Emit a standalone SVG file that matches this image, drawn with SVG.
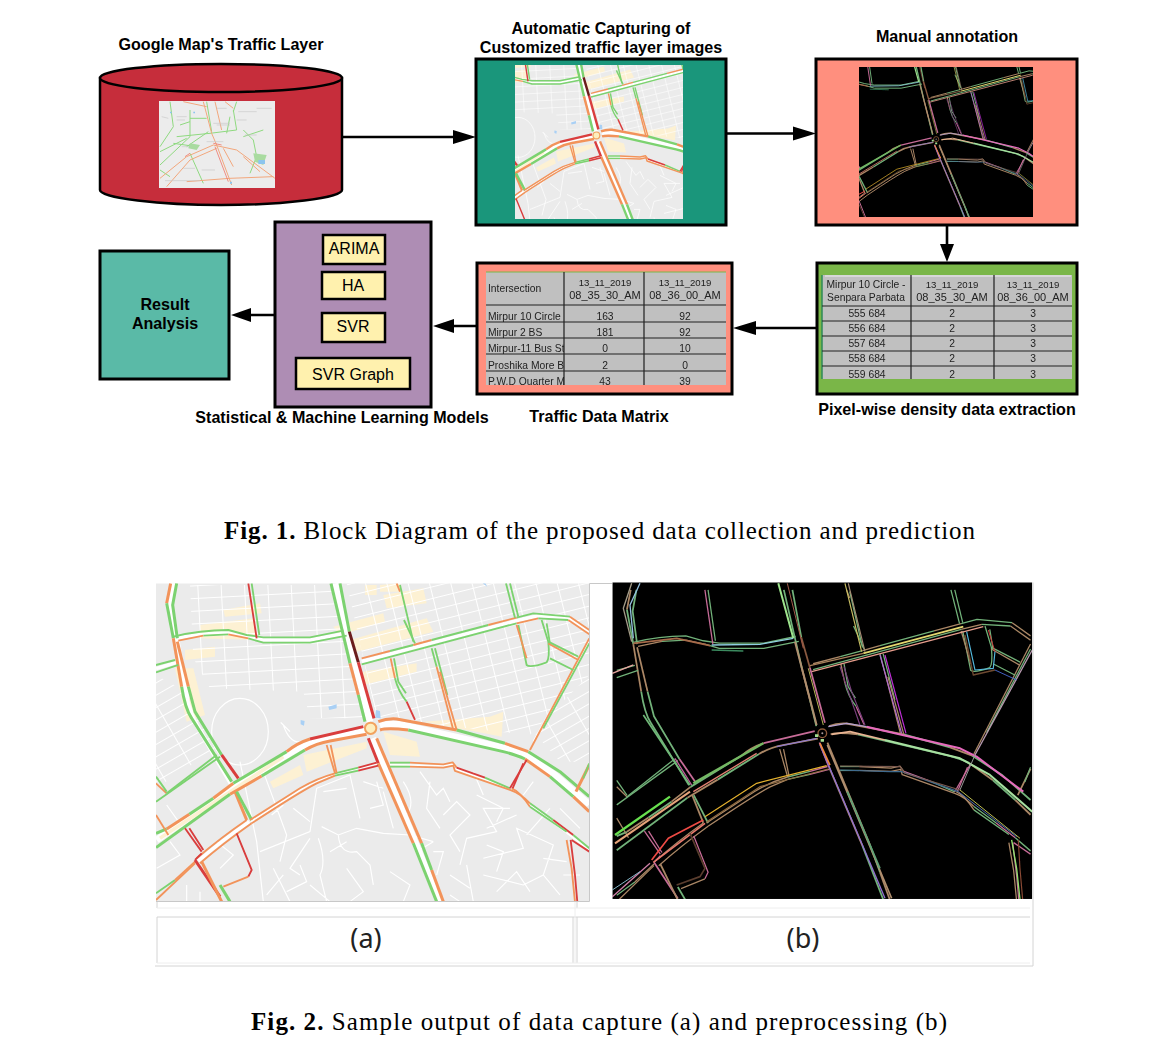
<svg xmlns="http://www.w3.org/2000/svg" xmlns:xlink="http://www.w3.org/1999/xlink" width="1158" height="1055" viewBox="0 0 1158 1055">
<style>
text{font-family:"Liberation Sans",Arial,sans-serif;fill:#000}
.t{font-weight:bold;font-size:16.100px;text-anchor:middle}
.l{font-size:16px;text-anchor:middle}
.c{font-family:"Liberation Serif","Times New Roman",serif;font-size:25px}
.c tspan{font-weight:bold}
.s{font-size:10.300px;fill:#222}
.h{font-size:11px}
.n{font-size:9.600px}
.m{text-anchor:middle}
.box{stroke:#000;stroke-width:3}
.inner{fill:#fff1ae;stroke:#000;stroke-width:2.5}
.tb{stroke:#222;stroke-width:1.2;fill:none}
.w{fill:none;stroke:#000;stroke-width:2.6}
.seg path,.ov path{fill:none;stroke-linejoin:round;stroke-linecap:butt}
.g{stroke:var(--g)}.o{stroke:var(--o)}.r{stroke:var(--r)}.d{stroke:var(--d)}
.T{stroke-width:var(--T)}.N{stroke-width:var(--N)}
.st{fill:none;stroke:#fff;stroke-width:3.5}
.cw{fill:none;stroke:#fff}
.gl{fill:none;stroke:#d4d4d4;stroke-width:1}
</style>
<defs>
<filter id="b4" x="-2%" y="-2%" width="104%" height="104%"><feGaussianBlur stdDeviation="0.45"/></filter>
<filter id="b3" x="-2%" y="-2%" width="104%" height="104%"><feGaussianBlur stdDeviation="0.3"/></filter>
<pattern id="p1" width="62" height="34" patternUnits="userSpaceOnUse" patternTransform="rotate(-14)"><path d="M0 1H62M1 0V34" fill="none" stroke="#fff" stroke-width="4"/></pattern>
<pattern id="p2" width="70" height="38" patternUnits="userSpaceOnUse" patternTransform="rotate(-3)"><path d="M0 1H70M1 0V38" fill="none" stroke="#fff" stroke-width="4"/></pattern>
<pattern id="p3" width="90" height="32" patternUnits="userSpaceOnUse" patternTransform="rotate(-30)"><path d="M0 1H90M1 0V32" fill="none" stroke="#fff" stroke-width="4"/></pattern>
<clipPath id="ca"><rect x="18" y="25" width="1300" height="955"/></clipPath>
<clipPath id="cb"><rect x="67" y="22" width="1260" height="950"/></clipPath>
<clipPath id="c2"><rect x="515" y="65" width="168" height="154"/></clipPath>
<clipPath id="c3"><rect x="859" y="67" width="174" height="150"/></clipPath>
<clipPath id="cm"><rect x="486" y="272" width="78" height="113"/></clipPath>
<clipPath id="cn"><rect x="486" y="272" width="240" height="113"/></clipPath>
<clipPath id="cp"><rect x="822" y="275" width="250" height="104"/></clipPath>

<g id="segs" class="seg">
<path class="g T" d="M543 25L600 265"/><path class="o T" d="M600 265L625 360"/><path class="g T" d="M625 360L645 440"/>
<path class="g T" d="M570 25L598 170"/><path class="d T" d="M598 170L625 262"/><path class="r T" d="M625 262L672 430"/>
<path class="r T" d="M655 490L685 565"/><path class="o T" d="M685 565L790 805"/><path class="g T" d="M790 805L860 980"/>
<path class="o T" d="M680 490L815 805"/><path class="g T" d="M815 805L845 885"/><path class="o T" d="M845 885L880 980"/>
<path class="g T" d="M18 775L50 762"/><path class="o T" d="M50 762L118 718"/><path class="g T" d="M118 718L190 670"/><path class="o T" d="M190 670L250 625"/><path class="g T" d="M250 625L410 530"/><path class="o T" d="M410 530Q440 505 480 492"/><path class="r T" d="M480 492L640 455"/>
<path class="g T" d="M18 818L240 658"/><path class="o T" d="M240 658L335 603"/><path class="g T" d="M335 603L465 525"/><path class="o T" d="M465 525Q500 505 540 498L650 478"/>
<path class="o T" d="M685 440Q710 430 740 432L920 465"/><path class="g T" d="M920 465L1065 505"/><path class="o T" d="M1065 505L1135 530"/><path class="g T" d="M1135 530L1230 590L1318 665"/>
<path class="o T" d="M690 465Q710 458 775 465"/><path class="g T" d="M775 465L1060 530Q1100 540 1125 552"/><path class="o T" d="M1125 552L1200 605"/><path class="g T" d="M1200 605L1270 665"/><path class="o T" d="M1270 665L1318 710"/>
<path class="o T" d="M62 25L50 85"/><path class="g T" d="M50 85L70 190"/><path class="o T" d="M70 190L95 335"/><path class="g T" d="M95 335Q105 400 125 430L245 620"/><path class="o T" d="M255 650L290 735"/>
<path class="g T" d="M80 25L68 90L82 190"/><path class="o T" d="M82 200L115 335"/><path class="g T" d="M115 335L135 410L215 540"/><path class="r T" d="M215 540L265 610"/><path class="g T" d="M260 650L305 735"/>
<path class="g N" d="M70 185Q150 165 235 165L290 180L340 187L480 187L580 167"/>
<path class="o N" d="M85 197L160 182"/><path class="g N" d="M160 182L235 178"/><path class="o N" d="M235 178L295 190"/><path class="g N" d="M295 190L340 203L480 203L590 182"/>
<path class="o N" d="M635 250L720 228"/><path class="g N" d="M720 228L790 210"/><path class="o N" d="M790 210L845 195"/><path class="g N" d="M845 195L1015 150"/><path class="o N" d="M1015 150L1100 128"/><path class="g N" d="M1100 128L1150 115L1260 125"/><path class="o N" d="M1260 125L1318 165"/>
<path class="g N" d="M635 268L1100 145"/><path class="o N" d="M1100 145L1165 130"/><path class="g N" d="M1165 130L1255 135"/><path class="o N" d="M1255 135L1318 178"/>
<path class="g N" d="M18 270L75 255"/><path class="g N" d="M18 292L85 270"/>
<path class="o N" d="M140 850Q210 790 290 735"/><path class="o N" d="M150 865Q220 805 305 745"/><path class="r N" d="M135 855L155 835"/>
<path class="o N" d="M300 735L450 640Q500 610 555 595"/><path class="g N" d="M555 595L625 578"/><path class="r N" d="M625 578L680 563"/>
<path class="o N" d="M305 745Q450 650 500 625L555 602"/><path class="g N" d="M555 602L625 587"/><path class="r N" d="M625 587L685 572"/>
<path class="g N" d="M720 563L780 563"/><path class="o N" d="M780 563L880 568L908 562L920 578"/><path class="r N" d="M920 578L1005 608"/><path class="g N" d="M1005 608L1080 640"/>
<path class="g N" d="M720 575L780 575"/><path class="o N" d="M780 575L880 578L910 572L915 588L1080 645Q1110 655 1140 685"/><path class="g N" d="M1140 685L1210 735"/><path class="r N" d="M1210 735L1270 780"/><path class="g N" d="M1270 780L1318 820"/>
<path class="o N" d="M1085 640Q1110 650 1140 695"/><path class="g N" d="M1140 695L1250 770"/>
<path class="o N" d="M18 975L135 865"/><path class="g N" d="M18 955L75 915"/><path class="o N" d="M75 915L135 860"/>
<path class="r N" d="M295 25L320 190"/><path class="g N" d="M305 25L328 180"/>
<path class="g N" d="M1068 25L1095 128"/><path class="g N" d="M1080 25L1105 125"/>
<path class="o N" d="M740 25L750 50"/><path class="g N" d="M750 30L790 200"/><path class="g N" d="M762 135L795 205"/>
<path class="g N" d="M845 220L860 275"/><path class="o N" d="M860 275L910 465"/><path class="g N" d="M855 220L892 360"/><path class="o N" d="M870 290L920 465"/>
<path class="o N" d="M722 250L735 310"/><path class="g N" d="M735 310Q745 350 770 380"/><path class="r N" d="M770 380L795 435"/><path class="g N" d="M732 250L745 320L768 355"/>
<path class="o N" d="M1318 190L1140 525"/><path class="g N" d="M1318 205L1180 460"/><path class="r N" d="M1130 555L1080 640"/><path class="r N" d="M1120 565L1088 640"/>
<path class="r T" d="M135 855L210 965"/><path class="o T" d="M155 860L215 980"/><path class="g T" d="M210 930L240 980"/>
<path class="r N" d="M260 775L305 885L295 905"/><path class="o N" d="M295 905L220 935"/>
<path class="r N" d="M105 760L155 830"/><path class="r N" d="M118 760L160 825"/>
<path class="o N" d="M18 625L50 655"/><path class="g N" d="M18 680L210 545"/><path class="g N" d="M50 655L200 540"/><path class="g N" d="M18 605L50 650"/><path class="o N" d="M18 720L55 780"/>
<path class="o N" d="M530 510L555 595"/><path class="o N" d="M542 510L560 595"/>
<path class="g N" d="M1105 150L1130 270Q1140 280 1190 262Q1200 250 1195 200L1175 135"/><path class="o N" d="M1100 150L1130 250"/><path class="g N" d="M1190 145L1200 205"/>
<path class="o N" d="M1195 205L1285 255"/><path class="g N" d="M1195 200L1285 245"/><path class="g N" d="M1200 250L1270 285"/>
<path class="o N" d="M1250 795L1265 880L1275 980"/><path class="r N" d="M1262 795L1275 900L1282 980"/><path class="r N" d="M1265 795L1318 830"/>
<path class="o T" d="M1318 570L1278 650"/><path class="g N" d="M1318 565L1300 610"/>
</g>

<g id="mapA">
<rect x="18" y="25" width="1300" height="955" fill="#ebebeb"/>
<path fill="#fdf1d3" d="M150 150L310 130L320 195L150 190ZM105 225L195 215L195 245L105 255ZM220 105L330 85L335 115L225 125ZM550 155L700 115L705 140L570 180ZM600 195L830 130L850 170L620 230ZM640 290L800 265L800 290L640 330ZM820 440L1020 425L1060 410L1055 485L1030 480ZM700 470L720 540L810 545L800 500ZM75 280L130 280L165 420L110 440ZM460 540L650 500L650 520L470 590ZM360 620L450 570L460 600L370 640ZM645 30L680 30L680 60L645 60ZM690 30L750 25L750 50L690 50ZM700 60L820 40L830 85L710 100Z"/>
<path fill="url(#p1)" d="M590 25H1318V300L1140 480L680 430Z"/>
<path fill="url(#p2)" d="M120 30H560L640 430H480L460 350L180 340L130 250Z"/>
<path fill="url(#p3)" d="M18 300L90 340L200 520L18 640Z"/>
<path fill="url(#p3)" d="M1150 470L1318 300V560H1230Z"/>
<g class="st">
<ellipse cx="270" cy="470" rx="85" ry="100"/>
<path d="M420 470Q380 430 400 450Q420 510 460 500M515 755L565 780L620 760L700 775L780 780L850 800M565 780Q570 840 620 830L660 870L670 930M505 790Q530 860 510 900L530 980M480 790L420 880L450 900M330 830L480 770L500 640L600 600L630 730M340 590L410 780L390 860M930 870L950 790L1040 770L1000 700L1080 700M950 870L970 980M1000 850L1120 820L1100 760L1210 810L1180 900M1120 930L1180 900L1230 960M850 830L880 830L860 900M700 650L730 760M810 590L860 660L880 640L900 680M980 660L1060 700L1040 740M520 650L590 640M640 620L700 640M1000 900L1120 930M760 620Q800 680 770 720M320 800L340 980M270 560L320 800M410 950L470 920L450 870M110 930V980M20 880L90 840L60 800M480 930L540 980M900 900L960 940M400 900L350 960M590 880L640 950L600 980M720 890L780 930L760 980M1040 950L1100 890L1140 950M1250 860L1180 850M1200 700L1130 780M540 830L590 800M430 700L480 740M365 720L400 690M880 720L920 680L960 720L900 780L930 830M1010 760L1100 720M660 700L700 690L680 620M840 620L830 700L870 760M200 800L250 840L210 880M370 880L420 980M50 690L100 760M1290 900H1240M1230 700L1290 760M150 950V980M970 590L1000 660M1150 620L1120 660M900 960L930 980M800 830L850 800M1010 810L1060 830L1040 890"/>
</g>
<path fill="#a9d0f5" d="M535 395L560 388L560 400L538 405ZM452 435L464 438L462 452L452 448ZM678 405L690 408L692 430L676 428ZM998 25H1006L1012 35Z"/>
<path class="cw" stroke-width="20" d="M556 25L660 440M668 490L870 985M20 795L245 640L435 525Q470 505 500 497L650 468M690 452Q710 445 750 448L1060 518Q1110 530 1140 550L1215 600L1318 688M70 25L60 90L90 260L110 370"/>
<path class="cw" stroke-width="13" d="M110 370Q120 415 140 450L280 690"/>
<path class="cw" stroke-width="10" d="M78 192Q150 172 235 172L290 185L340 195L480 195L585 175M635 259L1100 137L1165 122L1255 130L1318 172M18 281L80 262M145 858Q215 797 298 740"/>
<path class="cw" stroke-width="5" d="M302 740L450 645Q500 615 555 598L680 567M720 569L880 573L908 567L918 583L1080 642Q1110 650 1140 690L1318 825M1318 198L1150 500"/>
<path fill="none" stroke="#fdf1d3" stroke-width="11" d="M30 790L400 545"/>
<use xlink:href="#segs" href="#segs"/>
<circle cx="662" cy="460" r="17" fill="#fdeebd" stroke="#f2a35e" stroke-width="6"/>
</g>

<g id="mapB">
<rect x="67" y="22" width="1260" height="950" fill="#000"/>
<g transform="matrix(.955 0 0 .985 63 20)"><use xlink:href="#segs" href="#segs"/></g>
<g class="ov">
<path stroke="#b16ad0" stroke-width="3.5" d="M870 240L935 475"/><path stroke="#c02fd8" stroke-width="3.5" d="M885 240L948 475"/>
<path stroke="#7a3f7d" stroke-width="3.5" d="M750 275L775 350L810 450"/><path stroke="#7a3f7d" stroke-width="3.5" d="M762 275L785 350L825 450"/>
<path stroke="#c9bf62" stroke-width="3.5" d="M765 25L815 230"/><path stroke="#a58b73" stroke-width="3.5" d="M775 25L825 230"/>
<path stroke="#e5d86f" stroke-width="5" d="M820 235L1120 155"/><path stroke="#a7805a" stroke-width="4" d="M660 272L820 235"/><path stroke="#e79d8c" stroke-width="4" d="M665 290L1180 155"/>
<path stroke="#e66bbd" stroke-width="6" d="M830 455L1110 520L1160 545L1300 650"/><path stroke="#b5a0cf" stroke-width="4" d="M715 455L770 445L830 455"/>
<path stroke="#e9b493" stroke-width="5" d="M725 478L780 470L885 495"/><path stroke="#a7e0a0" stroke-width="6" d="M885 495L1110 550L1200 600L1327 710"/>
<path stroke="#e4b12e" stroke-width="3.5" d="M345 725L500 625L710 572"/><path stroke="#8d6a3f" stroke-width="3.5" d="M350 740L510 635L715 582"/>
<path stroke="#ef4b45" stroke-width="5" d="M185 855L235 790L340 735"/><path stroke="#e97a6d" stroke-width="5" d="M190 862L345 745"/>
<path stroke="#b89ab0" stroke-width="4" d="M1327 225L1155 540"/><path stroke="#9a9a9a" stroke-width="3" d="M1155 540L1110 645"/>
<path stroke="#9ee58d" stroke-width="6" d="M565 25L610 190"/><path stroke="#a25a49" stroke-width="3" d="M592 25L640 220"/><path stroke="#b08f6f" stroke-width="6" d="M615 200L680 450"/><path stroke="#b9b657" stroke-width="3" d="M655 280L700 450"/>
<path stroke="#94c1e0" stroke-width="4" d="M150 25L120 90L130 190"/><path stroke="#a39b88" stroke-width="4" d="M125 25L100 100L125 200"/>
<path stroke="#8fd0e0" stroke-width="4" d="M365 210L510 208L610 190"/><path stroke="#3b8a5f" stroke-width="4" d="M365 225L460 228"/>
<path stroke="#a66a4a" stroke-width="5" d="M130 205L260 190L360 212"/><path stroke="#6fb878" stroke-width="5" d="M160 420L250 555L300 630"/><path stroke="#c05c9a" stroke-width="4" d="M255 550L305 630"/>
<path stroke="#68e04f" stroke-width="7" d="M75 780L240 665"/><path stroke="#74b864" stroke-width="7" d="M310 625L520 505"/><path stroke="#e6a47a" stroke-width="6" d="M75 805L300 650"/><path stroke="#e28272" stroke-width="4" d="M310 650L500 535"/><path stroke="#8f7ac8" stroke-width="4" d="M560 515L680 490"/>
<path stroke="#9070d0" stroke-width="4" d="M690 510L885 970"/><path stroke="#b08f6f" stroke-width="5" d="M712 510L905 970"/><path stroke="#5ea377" stroke-width="5" d="M772 650L870 880"/><path stroke="#ef8a3a" stroke-width="5" d="M690 505L720 570"/>
<path stroke="#d080a8" stroke-width="4" d="M67 965L180 865"/><path stroke="#84b6c8" stroke-width="3" d="M67 945L150 890"/>
<path stroke="#3f6a8f" stroke-width="3.5" d="M750 585L900 590L935 590L1105 650"/><path stroke="#7a5a50" stroke-width="3.5" d="M750 573L930 575L945 595L1110 645"/><path stroke="#bcbb4d" stroke-width="3" d="M1110 645L1290 790"/><path stroke="#4e6fb0" stroke-width="3" d="M1105 650L1280 785"/>
<path stroke="#93e36e" stroke-width="4" d="M1265 795L1280 880L1290 972"/><path stroke="#8a4a35" stroke-width="3.5" d="M1285 795L1290 880L1298 972"/>
<path stroke="#5a3c2e" stroke-width="5" d="M300 775L345 880L330 905L260 930"/><path stroke="#54b8dc" stroke-width="3.5" d="M1130 170L1155 285L1210 280L1215 230"/><path stroke="#6e4a30" stroke-width="4" d="M1125 180L1150 300L1215 285"/><path stroke="#4060c0" stroke-width="3" d="M1215 285L1280 315"/><path stroke="#cf3a3a" stroke-width="3" d="M1195 165L1215 230"/>
<path stroke="#e9a5a0" stroke-width="4" d="M67 295L130 270"/>
</g>
<circle cx="697" cy="475" r="13" fill="#000" stroke="#8e5a3a" stroke-width="4"/>
<circle cx="697" cy="475" r="3" fill="#a99"/>
<path fill="#a5df93" d="M675 478h10v8h-10zM692 492h10v8h-10z"/>
</g>
</defs>

<g id="connectors">
<path class="w" d="M342 137H455M726 133.500H795M947 226V245M816 328H754M476 326H452M275 315H249"/>
<path fill="#000" d="M453 130L476 137L453 144ZM793 126.500L816 133.500L793 140.500ZM940 244L947 262L954 244ZM756 321L733 328L756 335ZM454 319L433 326L454 333ZM251 308L231 315L251 322Z"/>
</g>

<g id="cylinder">
<path fill="#c62d3b" stroke="#000" stroke-width="2.5" d="M100 78V190C100 198 160 205 221 205S342 198 342 190V78Z"/>
<ellipse cx="221" cy="78" rx="121" ry="14" fill="#c62d3b" stroke="#000" stroke-width="2.5"/>
<text class="t" x="221" y="50">Google Map's Traffic Layer</text>
<g filter="url(#b4)">
<rect x="159" y="101" width="116" height="87" fill="#ececec"/>
<g transform="translate(90 50) scale(.3333)" fill="none" stroke-width="3">
<g stroke="#8fd97f"><path d="M240 155L250 230L210 290M300 180L300 260L210 345M430 180L440 240L360 250L260 260M355 245L290 290M460 240L490 270L500 320L480 370M210 360L240 380M300 310L340 400M420 200L410 250M250 280L320 290M460 260L520 240M300 205H350M210 305L290 265M270 225L300 215M350 155L365 245M440 155L430 185"/></g>
<g stroke="#f2a77c"><path d="M340 155L365 250L380 285L425 405M210 385L290 320L370 285L440 300L555 385M375 155L395 240M230 410L300 330L380 295M290 395L420 385L550 380M400 295L430 350M460 320L510 365M280 155L350 170M405 155L430 175"/></g>
<g stroke="#ef7a6e" stroke-width="2.500"><path d="M375 290L415 395M285 320L300 310M370 280L395 285"/></g>
<g stroke="#c8c8c8" stroke-width="2"><path d="M260 200H290M260 210H285M380 175H410M380 225H420M445 185H500M500 175H545M275 290H325M280 355H315M335 360H375M225 392H330M370 220H420M215 200L235 205M440 210H470M465 255H500M350 275H400"/></g>
<path fill="#a9dba0" stroke="none" d="M300 280L330 285L320 300L295 295ZM490 310L530 315L520 345L495 335Z"/>
<path fill="#8cc5ee" stroke="none" d="M505 330h20v12h-20zM310 185h5v5h-5zM240 185h5v5h-5zM420 395h6v6h-6z"/>
</g>
</g>
</g>

<g id="capture">
<rect class="box" x="476" y="59" width="250" height="166" fill="#1a967b"/>
<text class="t" x="601" y="34">Automatic Capturing of</text>
<text class="t" x="601" y="53">Customized traffic layer images</text>
<g clip-path="url(#c2)"><g filter="url(#b3)" transform="translate(515 65) scale(.2) translate(-255 -108)"><use xlink:href="#mapA" href="#mapA" style="--g:#7bd26f;--o:#f2935a;--r:#d93c3c;--d:#6b1d1d;--T:12;--N:7"/></g></g>
</g>

<g id="annotation">
<rect class="box" x="816" y="59" width="261" height="166" fill="#ff8f7e"/>
<text class="t" x="947" y="42">Manual annotation</text>
<g clip-path="url(#c3)"><rect x="859" y="67" width="174" height="150" fill="#000"/><g filter="url(#b3)" transform="translate(442.800 -300.800) scale(.6) translate(590 575) scale(.3333)"><use xlink:href="#mapB" href="#mapB" style="--g:#72b27a;--o:#ab8766;--r:#c76c98;--d:#8a5a40;--T:7;--N:5"/></g></g>
</g>

<g id="density">
<rect class="box" x="817" y="263" width="260" height="131" fill="#7ab648"/>
<rect x="822" y="275" width="250" height="104" fill="#c0c0c0"/>
<path fill="none" stroke="#eee" d="M825 276H1071"/><path fill="none" stroke="#2e8b57" stroke-width="1.500" d="M822 275V379"/>
<g filter="url(#b3)" clip-path="url(#cp)">
<path class="tb" d="M822 306H1072M822 321H1072M822 336H1072M822 351H1072M822 366H1072M911 275V379M994 275V379"/>
<text class="s m" x="866" y="288">Mirpur 10 Circle -</text><text class="s m" x="866" y="301">Senpara Parbata</text>
<text class="s m n" x="952" y="288">13_11_2019</text><text class="s m h" x="952" y="301">08_35_30_AM</text>
<text class="s m n" x="1033" y="288">13_11_2019</text><text class="s m h" x="1033" y="301">08_36_00_AM</text>
<text class="s m" x="867" y="317">555 684</text><text class="s m" x="952" y="317">2</text><text class="s m" x="1033" y="317">3</text>
<text class="s m" x="867" y="332">556 684</text><text class="s m" x="952" y="332">2</text><text class="s m" x="1033" y="332">3</text>
<text class="s m" x="867" y="347">557 684</text><text class="s m" x="952" y="347">2</text><text class="s m" x="1033" y="347">3</text>
<text class="s m" x="867" y="362">558 684</text><text class="s m" x="952" y="362">2</text><text class="s m" x="1033" y="362">3</text>
<text class="s m" x="867" y="378">559 684</text><text class="s m" x="952" y="378">2</text><text class="s m" x="1033" y="378">3</text>
</g>
<text class="t" x="947" y="415">Pixel-wise density data extraction</text>
</g>

<g id="matrix">
<rect class="box" x="477" y="263" width="255" height="131" fill="#ff8f7e"/>
<rect x="486" y="272" width="240" height="113" fill="#c0c0c0"/>
<path fill="none" stroke="#7ab648" d="M486 272H726"/>
<g filter="url(#b3)">
<g clip-path="url(#cn)">
<path class="tb" d="M486 305H726M486 322H726M486 338H726M486 354H726M486 371H726M564 272V385M644 272V385"/>
<text class="s m n" x="605" y="286">13_11_2019</text><text class="s m h" x="605" y="299">08_35_30_AM</text>
<text class="s m n" x="685" y="286">13_11_2019</text><text class="s m h" x="685" y="299">08_36_00_AM</text>
<text class="s m" x="605" y="320">163</text><text class="s m" x="685" y="320">92</text>
<text class="s m" x="605" y="336">181</text><text class="s m" x="685" y="336">92</text>
<text class="s m" x="605" y="352">0</text><text class="s m" x="685" y="352">10</text>
<text class="s m" x="605" y="369">2</text><text class="s m" x="685" y="369">0</text>
<text class="s m" x="605" y="385">43</text><text class="s m" x="685" y="385">39</text>
</g>
<g clip-path="url(#cm)">
<text class="s" x="488" y="292">Intersection</text>
<text class="s" x="488" y="320">Mirpur 10 Circle</text>
<text class="s" x="488" y="336">Mirpur 2 BS</text>
<text class="s" x="488" y="352">Mirpur-11 Bus St</text>
<text class="s" x="488" y="369">Proshika More B</text>
<text class="s" x="488" y="385">P.W.D Quarter M</text>
</g>
</g>
<text class="t" x="599" y="422">Traffic Data Matrix</text>
</g>

<g id="models">
<rect class="box" x="275" y="222" width="156" height="185" fill="#ae8db4"/>
<text class="t" x="342" y="423">Statistical &amp; Machine Learning Models</text>
</g>
<g id="arima"><rect class="inner" x="323" y="235" width="62" height="29"/><text class="l" x="354" y="254">ARIMA</text></g>
<g id="ha"><rect class="inner" x="322" y="272" width="63" height="27"/><text class="l" x="353" y="291">HA</text></g>
<g id="svr"><rect class="inner" x="322" y="313" width="63" height="29"/><text class="l" x="353" y="332">SVR</text></g>
<g id="svrgraph"><rect class="inner" x="296" y="358" width="114" height="31"/><text class="l" x="353" y="380">SVR Graph</text></g>
<g id="result"><rect class="box" x="100" y="251" width="129" height="128" fill="#5abaa7" stroke-width="2.500"/>
<text class="t" x="165" y="310">Result</text><text class="t" x="165" y="329">Analysis</text></g>

<text class="c" x="224" y="539" textLength="751"><tspan>Fig. 1.</tspan> Block Diagram of the proposed data collection and prediction</text>

<g id="figure2">
<g transform="translate(150 575) scale(.3333)">
<g clip-path="url(#ca)"><g filter="url(#b3)"><use xlink:href="#mapA" href="#mapA" style="--g:#7bd26f;--o:#f2935a;--r:#d93c3c;--d:#6b1d1d;--T:9;--N:5.500"/></g></g>
</g>
<path fill="none" stroke="#c8c8c8" d="M156 901.500H589.500V583.500H612"/>
<g transform="translate(590 575) scale(.3333)">
<g clip-path="url(#cb)"><g filter="url(#b3)"><use xlink:href="#mapB" href="#mapB" style="--g:#72b27a;--o:#ab8766;--r:#c76c98;--d:#8a5a40;--T:5.500;--N:4"/></g></g>
</g>
<path class="gl" d="M1033 582.500V966M157 902V908M157 917V963M573 917V963M577 902V908M577 917V963M157 917H1030M155 966H1033"/>
<path fill="none" stroke="#eee" d="M157 908H1030M575 902V963M157 963H1030"/>
<text x="366" y="948" font-size="27" text-anchor="middle" style='font-family:"Noto Sans","Open Sans",sans-serif;fill:#222'>(a)</text>
<text x="803" y="948" font-size="27" text-anchor="middle" style='font-family:"Noto Sans","Open Sans",sans-serif;fill:#222'>(b)</text>
</g>

<text class="c" x="251" y="1030" textLength="696"><tspan>Fig. 2.</tspan> Sample output of data capture (a) and preprocessing (b)</text>
</svg>
